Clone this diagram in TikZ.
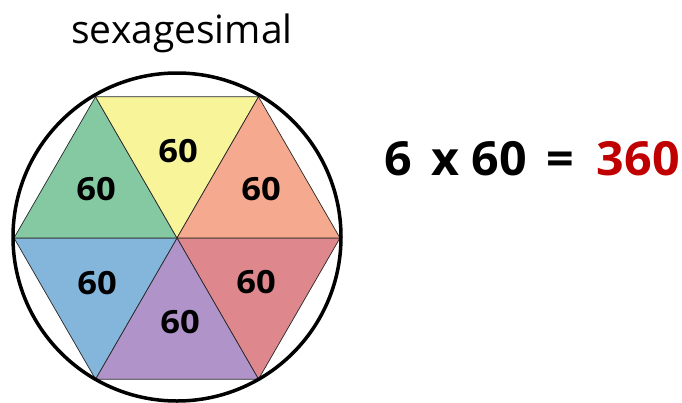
\documentclass[tikz,border=0pt]{standalone}
\usepackage{fontspec}
\setmainfont{Open Sans}
\newfontfamily\numfont{Open Sans}[FakeStretch=1.08]
\newfontfamily\eqfont{Open Sans}[FakeStretch=1.03]
\usepackage{xcolor}
\usetikzlibrary{calc}
\definecolor{triGreen}{HTML}{85C9A3}
\definecolor{triYellow}{HTML}{F8F49A}
\definecolor{triOrange}{HTML}{F5A98F}
\definecolor{triRed}{HTML}{DE888E}
\definecolor{triPurple}{HTML}{B093C8}
\definecolor{triBlue}{HTML}{84B6DB}
\definecolor{numRed}{HTML}{C00000}
\tikzset{tri/.style={draw=black!85,line width=0.7pt,line join=round},
  num/.style={font=\numfont\bfseries\fontsize{32}{32}\selectfont,inner sep=0pt},
  ring/.style={draw=black,line width=3.5pt}}

\begin{document}
\begin{tikzpicture}[x=1pt,y=-1pt]
\useasboundingbox (0,0) rectangle (682,402);
\node[anchor=base,font=\fontsize{39}{39}\selectfont,inner sep=0pt] (title) at (182,43) {sexagesimal};
\coordinate (O) at (177,238);
\foreach \k in {0,...,5} \coordinate (h\k) at ($(O)+(\k*60:163)$);
\foreach \a/\b/\c in {0/1/triRed,1/2/triPurple,2/3/triBlue,3/4/triGreen,4/5/triYellow,5/0/triOrange}
  \filldraw[tri,fill=\c] (O)--(h\a)--(h\b)--cycle;
\draw[ring] (177,237) circle (164);
\node[num] (n1) at (178,151) {60};
\node[num] (n2) at (96,189) {60};
\node[num] (n3) at (261,189) {60};
\node[num] (n4) at (97,283) {60};
\node[num] (n5) at (256,282) {60};
\node[num] (n6) at (180,322) {60};
\node[anchor=base west,font=\eqfont\bfseries\fontsize{47}{47}\selectfont,inner sep=0pt] (eq) at (384,175)
  {6\hspace{20pt}x\hspace{12pt}60\hspace{19pt}=\hspace{23pt}\textcolor{numRed}{360}};
\end{tikzpicture}
\end{document}
